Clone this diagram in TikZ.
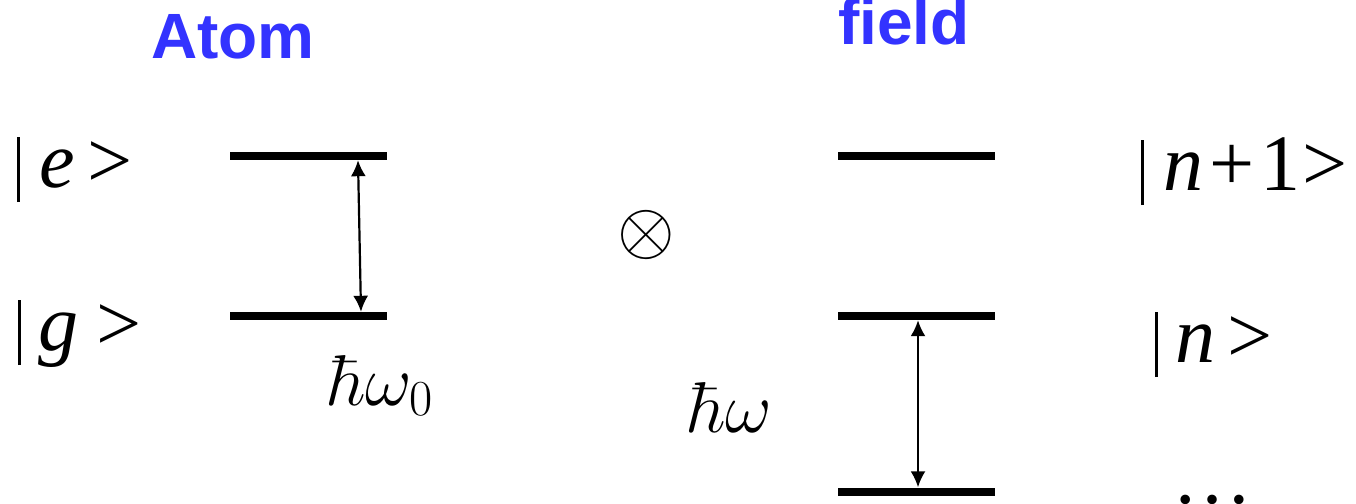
\RequirePackage{fix-cm}
\documentclass[tikz,border=0pt]{standalone}
\usepackage{fontspec}
\usepackage{xcolor}
\usetikzlibrary{arrows.meta}
\newfontfamily\headfont{Liberation Sans}
\newfontfamily\ketfont{Liberation Serif}
\definecolor{titleblue}{RGB}{51,51,255}
\newcommand\ketbar{\rule[-15pt]{2.6pt}{65pt}}

\begin{document}
\begin{tikzpicture}[x=1pt,y=-1pt,
  level/.style={fill=black,inner sep=0pt,minimum width=157pt,minimum height=8pt},
  gap/.style={line width=2.2pt,{Latex[length=16pt,width=15pt]}-{Latex[length=16pt,width=15pt]}},
  ket/.style={font=\ketfont\fontsize{80}{90}\selectfont,anchor=base west,inner sep=0pt},
  title/.style={font=\headfont\bfseries\fontsize{64}{70}\selectfont,text=titleblue,anchor=base west,inner sep=0pt},
  energy/.style={font=\fontsize{72}{80}\selectfont,anchor=base west,inner sep=0pt}]
  \useasboundingbox (0,0) rectangle (1356,503);
  % titles
  \node[title] (atom) at (151,59) {Atom};
  \node[title] (field) at (838,45) {field};
  % atom levels
  \node[level] (atomE) at (308.5,156) {};
  \node[level] (atomG) at (308.5,316) {};
  \draw[gap] ([xshift=49.5pt]atomE.south) -- ([xshift=52.5pt]atomG.north);
  \node[ket] (ketE) at (17,187) {\ketbar\hspace{20pt}\textit{e}\hspace{12pt}>};
  \node[ket] (ketG) at (18,350) {\ketbar\hspace{18pt}\textit{g}\hspace{18pt}>};
  \node[energy] (w0) at (328,405) {$\hbar\omega_0$};
  % product
  \node[font=\fontsize{74}{80}\selectfont,inner sep=0pt] (prod) at (646,235) {$\otimes$};
  % field levels
  \node[level] (fieldN1) at (916.5,156) {};
  \node[level] (fieldN) at (916.5,316) {};
  \node[level] (fieldN0) at (916.5,491.5) {};
  \draw[gap] ([xshift=1.5pt]fieldN.south) -- ([xshift=1.5pt]fieldN0.north);
  \node[ket] (ketN1) at (1141,190) {\ketbar\hspace{20pt}\textit{n}\hspace{6pt}+\hspace{6pt}1\hspace{2pt}>};
  \node[ket] (ketN) at (1155,362) {\ketbar\hspace{18pt}\textit{n}\hspace{12pt}>};
  \node[energy] (w) at (688,432) {$\hbar\omega$};
  \node[ket] (dots) at (1172,503) {\ldots};
\end{tikzpicture}
\end{document}
